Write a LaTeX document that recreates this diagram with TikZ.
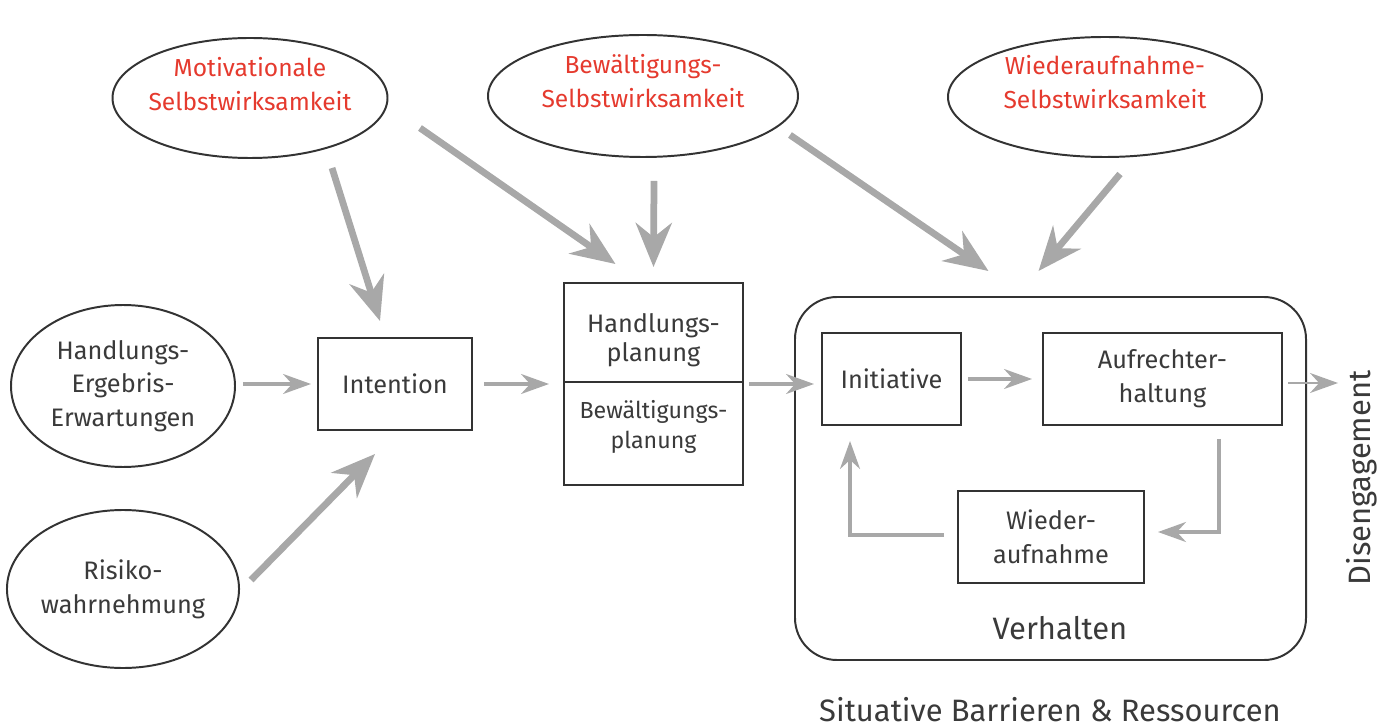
\documentclass[tikz,border=0pt]{standalone}
\usepackage{fontspec}
\setmainfont{Fira Sans}
\usepackage{tikz}
\usetikzlibrary{calc,shapes.geometric,arrows.meta}
\definecolor{pfeilgrau}{HTML}{A8A8A8}
\definecolor{rahmen}{HTML}{333333}
\definecolor{schrift}{HTML}{3A3A3A}
\definecolor{rot}{HTML}{E53A2E}

\begin{document}
\begin{tikzpicture}[x=0.025cm, y=-0.025cm,
		every node/.style={font=\fontsize{18}{24}\selectfont, text=schrift, align=center},
		oval/.style={ellipse, draw=rahmen, line width=1.4pt, inner sep=0pt},
		kasten/.style={rectangle, draw=rahmen, line width=1.4pt, inner sep=0pt},
		dick/.style={draw=pfeilgrau, line width=4.8pt, -{Stealth[length=1.1cm, width=0.9cm]}},
		duenn/.style={draw=pfeilgrau, line width=2.2pt, -{Stealth[length=0.7cm, width=0.5cm]}},
		rotetext/.style={text=rot, font=\fontsize{17.5}{24}\selectfont},
		gross/.style={font=\fontsize{22}{26}\selectfont}]
			%%%%% START %%%%%
			\useasboundingbox (0, 0) rectangle (1394, 728);
			
			% Selbstwirksamkeit oben
			\node[oval, minimum width=275*0.025cm, minimum height=120*0.025cm] (motiv) at (250, 98) {};
			\node[oval, minimum width=310*0.025cm, minimum height=122*0.025cm] (bewaelt) at (643, 96) {};
			\node[oval, minimum width=314*0.025cm, minimum height=120*0.025cm] (wiederauf) at (1105, 97) {};
			\node[rotetext] (motivtext) at ($(motiv)+(0, -14)$) {Motivationale\\Selbstwirksamkeit};
			\node[rotetext] (bewaelttext) at ($(bewaelt)+(0, -15)$) {Bewältigungs-\\Selbstwirksamkeit};
			\node[rotetext] (wiederauftext) at ($(wiederauf)+(0, -15)$) {Wiederaufnahme-\\Selbstwirksamkeit};
			
			% links
			\node[oval, minimum width=224*0.025cm, minimum height=162*0.025cm] (erwartung) at (123, 386) {Handlungs-\\Ergebris-\\Erwartungen};
			\node[oval, minimum width=224*0.025cm, minimum height=158*0.025cm] (risiko) at (123, 589) {Risiko-\\wahrnehmung};
			
			\node[kasten, minimum width=154*0.025cm, minimum height=92*0.025cm] (intention) at (395, 384) {Intention};
			
			% Planung
			\node[kasten, minimum width=179*0.025cm, minimum height=202*0.025cm] (planung) at (653.5, 384) {};
			\draw[rahmen, line width=1.4pt] (planung.west |- 0, 382) -- (planung.east |- 0, 382);
			\node[font=\fontsize{18}{21}\selectfont] (handlplan) at (653.5, 340) {Handlungs-\\planung};
			\node[font=\fontsize{16.5}{21}\selectfont] (bewplan) at (653.5, 427) {Bewältigungs-\\planung};
			
			% Verhalten
			\node[kasten, rounded corners=1.05cm, minimum width=511*0.025cm, minimum height=363*0.025cm] (verhalten) at (1050.5, 478.5) {};
			\node[kasten, minimum width=139*0.025cm, minimum height=92*0.025cm] (initiative) at (891.5, 379) {Initiative};
			\node[kasten, minimum width=239*0.025cm, minimum height=92*0.025cm] (aufrecht) at (1162.5, 379) {Aufrechter-\\haltung};
			\node[kasten, minimum width=186*0.025cm, minimum height=92*0.025cm] (wiederaufn) at (1051, 537) {Wieder-\\aufnahme};
			\node[gross] (verhlabel) at (1060, 628) {Verhalten};
			\node[gross, rotate=90] (diseng) at (1362, 478) {Disengagement};
			\node[gross, anchor=base, inner sep=1pt] (situativ) at (1050, 721) {Situative Barrieren \& Ressourcen};
			\coordinate (disengpfeil) at (1338, 383);
			
			% dicke Pfeile
			\draw[dick] ($(motiv.south)+(82, 9)$) -- ($(intention.north)+(-15, -16)$);
			\draw[dick] ($(motiv)+(170, 30)$) -- ($(planung.north)+(-38, -18)$);
			\draw[dick] ($(bewaelt.south)+(11, 23)$) -- ($(planung.north)+(0, -15)$);
			\draw[dick] ($(bewaelt)+(147, 39)$) -- ($(verhalten.north)+(-62, -25)$);
			\draw[dick] ($(wiederauf.south)+(15, 16)$) -- ($(verhalten.north)+(-12, -25)$);
			\draw[dick] ($(risiko.east)+(11, -9)$) -- ($(intention.south)+(-20, 23)$);
			
			% duenne Pfeile
			\draw[duenn, shorten <=7*0.025cm, shorten >=6*0.025cm] (erwartung.east |- intention) -- (intention.west);
			\draw[duenn, shorten <=11*0.025cm, shorten >=14*0.025cm] (intention.east) -- (planung.west |- intention);
			\draw[duenn, shorten <=5*0.025cm, shorten >=7*0.025cm] (planung.east) -- (planung.east -| initiative.west);
			\draw[duenn, shorten <=6*0.025cm, shorten >=10*0.025cm] (initiative.east) -- (aufrecht.west);
			\draw[duenn, line width=1.6pt, shorten <=5*0.025cm] (aufrecht.east |- disengpfeil) -- (disengpfeil);
			\draw[duenn, line join=miter] ($(aufrecht.south east)+(-64, 13)$) |- ($(wiederaufn.east)+(13, -5)$);
			\draw[duenn, line join=miter] ($(wiederaufn.west)+(-13, -2)$) -| ($(initiative.south west)+(29, 15)$);
			
			%%%%% END %%%%%
		\end{tikzpicture}
\end{document}
